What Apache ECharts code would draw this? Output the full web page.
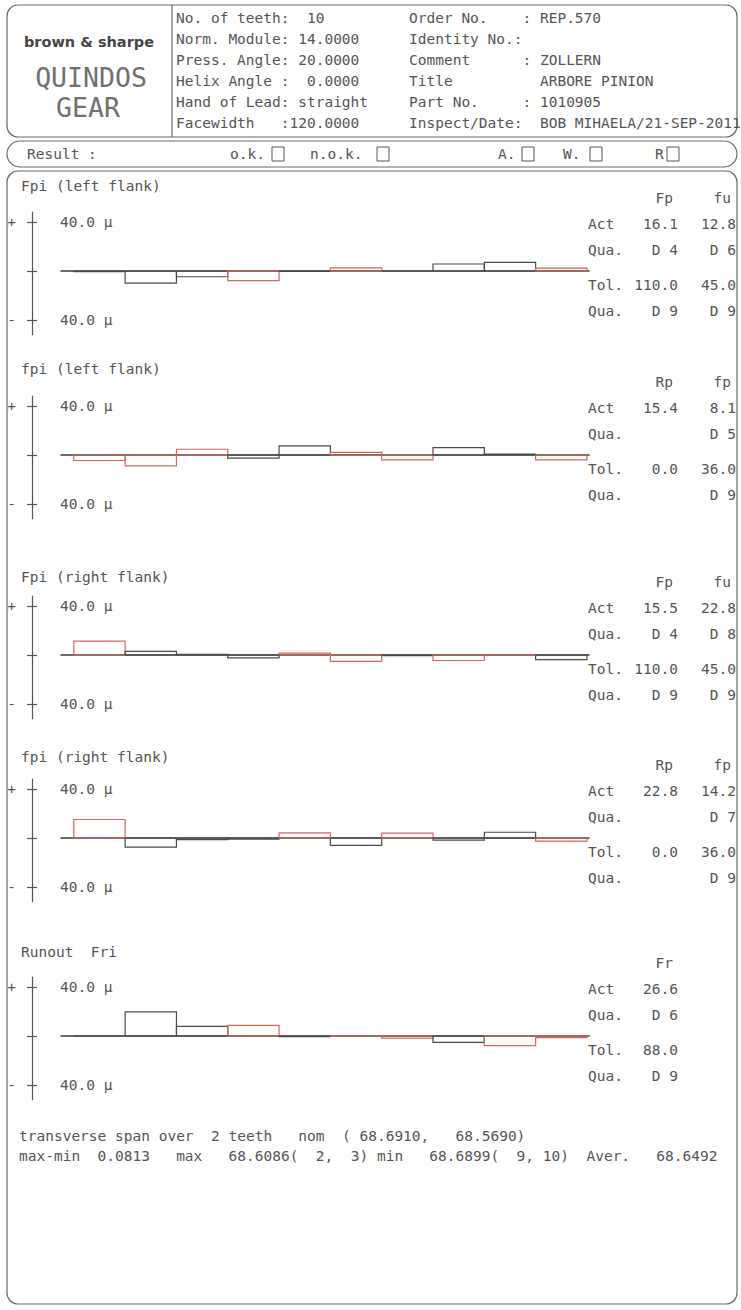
<!DOCTYPE html>
<html>
<head>
<meta charset="utf-8">
<script src="https://cdn.jsdelivr.net/npm/echarts@6/dist/echarts.min.js"></script>
<style>
html,body{margin:0;padding:0;background:#fff;}
#c{width:741px;height:1310px;}
</style>
</head>
<body>
<div id="c"></div>
<script>
// ---------------- DATA ----------------
const teeth = [1, 2, 3, 4, 5, 6, 7, 8, 9, 10];
// cumulative / single pitch deviations and runout, µm per tooth
const fpiLeftFlank  = [-0.5, -9.9, -4.7, -7.8, -0.3, 2.6, 0.0, 5.7, 7.0, 2.3];
const fpLeftFlank   = [-4.5, -8.9, 4.7, -2.6, 7.4, 2.1, -3.9, 6.1, 0.8, -3.9];
const fpiRightFlank = [11.4, 3.0, 0.5, -2.4, 1.6, -5.2, -0.5, -4.5, 0.0, -3.7];
const fpRightFlank  = [15.1, -7.5, -1.3, -1.0, 4.2, -6.0, 3.9, -1.8, 4.7, -2.6];
const runoutFri     = [0.0, 19.7, 7.8, 8.6, -0.5, -0.2, -1.8, -5.2, -7.8, -1.3];

const panelTitles = ['Fpi (left flank)', 'fpi (left flank)', 'Fpi (right flank)', 'fpi (right flank)', 'Runout  Fri'];
const scaleLabels = ['40.0 µ', '40.0 µ', '40.0 µ', '40.0 µ', '40.0 µ'];
const scaleTicks = [-40, 0, 40];

const statHeads = [['Fp', 'fu'], ['Rp', 'fp'], ['Fp', 'fu'], ['Rp', 'fp'], ['Fr']];
const statAct   = [['16.1', '12.8'], ['15.4', '8.1'], ['15.5', '22.8'], ['22.8', '14.2'], ['26.6']];
const statQua   = [['D 4', 'D 6'], ['', 'D 5'], ['D 4', 'D 8'], ['', 'D 7'], ['D 6']];
const statTol   = [['110.0', '45.0'], ['0.0', '36.0'], ['110.0', '45.0'], ['0.0', '36.0'], ['88.0']];
const statQuaTol= [['D 9', 'D 9'], ['', 'D 9'], ['D 9', 'D 9'], ['', 'D 9'], ['D 9']];

const gearParams = [
  'No. of teeth:  10',
  'Norm. Module: 14.0000',
  'Press. Angle: 20.0000',
  'Helix Angle :  0.0000',
  'Hand of Lead: straight',
  'Facewidth   :120.0000'
];
const orderInfo = [
  'Order No.    : REP.570',
  'Identity No.:',
  'Comment      : ZOLLERN',
  'Title          ARBORE PINION',
  'Part No.     : 1010905',
  'Inspect/Date:  BOB MIHAELA/21-SEP-2011'
];
const resultItems = ['o.k.', 'n.o.k.', 'A.', 'W.', 'R'];
const spanLines = [
  'transverse span over  2 teeth   nom  ( 68.6910,   68.5690)',
  'max-min  0.0813   max   68.6086(  2,  3) min   68.6899(  9, 10)  Aver.   68.6492'
];

// ---------------- STYLE ----------------
const TXT = '#555';
const LINE = '#6a6a6a';
const DARK = '#4a4a4a';
const RED = '#d8675c';
const MONO = '"DejaVu Sans Mono", "Liberation Mono", monospace';
const FS = 14.5;
const PITCH = 8.73;
// outline colour of each tooth bar (r = red pen, d = dark pen)
const toothStroke = [
  ['d','d','d','r','d','r','d','d','d','r'],
  ['r','r','r','d','d','r','r','d','d','r'],
  ['r','d','d','d','r','r','d','r','r','d'],
  ['r','d','d','d','r','d','r','d','d','r'],
  ['d','d','d','r','d','r','r','d','r','r']
];
const seriesData = [fpiLeftFlank, fpLeftFlank, fpiRightFlank, fpRightFlank, runoutFri];
const zeroY = [271, 455, 655, 838, 1036];
const titleY = [187, 370, 578, 758, 953];
const PXU = 49 / 40;        // pixels per micron
const YMAX = 48, YMIN = -52;

function txt(x, y, s, o) {
  o = o || {};
  return {
    type: 'text', x: x, y: y, silent: true,
    style: {
      text: s, fill: o.fill || TXT,
      font: (o.weight || 'normal') + ' ' + (o.size || FS) + 'px ' + (o.family || MONO),
      textAlign: o.align || 'left', verticalAlign: 'middle'
    }
  };
}
// place runs of a fixed-pitch line at their column positions
function monoLine(x0, y, s) {
  const out = [];
  const re = /\S+(?: \S+)*/g;
  let m;
  while ((m = re.exec(s))) out.push(txt(x0 + m.index * PITCH, y, m[0]));
  return out;
}

const els = [];
// header box
els.push({type: 'rect', silent: true, shape: {x: 7, y: 5, width: 730, height: 132, r: 11},
  style: {fill: 'none', stroke: LINE, lineWidth: 1.2}});
els.push({type: 'line', silent: true, shape: {x1: 172, y1: 5, x2: 172, y2: 137},
  style: {stroke: LINE, lineWidth: 1.2}});
els.push(txt(89, 42, 'brown & sharpe', {weight: 'bold', size: 14.5, family: '"DejaVu Sans", sans-serif', align: 'center', fill: '#444'}));
els.push(txt(91, 77, 'QUINDOS', {size: 26.5, align: 'center', fill: '#707070'}));
els.push(txt(88, 107, 'GEAR', {size: 26.5, align: 'center', fill: '#707070'}));
gearParams.forEach((s, i) => els.push(...monoLine(176, 18 + i * 21, s)));
orderInfo.forEach((s, i) => els.push(...monoLine(409, 18 + i * 21, s)));

// result row
els.push({type: 'rect', silent: true, shape: {x: 7, y: 141, width: 730, height: 26, r: 13},
  style: {fill: 'none', stroke: LINE, lineWidth: 1.2}});
els.push(txt(27, 154, 'Result :'));
const resX = [230, 310, 498, 563, 655];
const boxX = [272, 377, 522, 590, 667];
resultItems.forEach((s, i) => {
  els.push(txt(resX[i], 154, s));
  els.push({type: 'rect', silent: true, shape: {x: boxX[i], y: 147, width: 12, height: 14},
    style: {fill: 'none', stroke: '#555', lineWidth: 1}});
});

// main box
els.push({type: 'rect', silent: true, shape: {x: 7, y: 171, width: 730, height: 1133, r: 11},
  style: {fill: 'none', stroke: LINE, lineWidth: 1.2}});

// stats
const rowOff = [-73, -47, -21, 14, 40];
const colR = [678, 736];
zeroY.forEach((z, k) => {
  statHeads[k].forEach((h, j) => els.push(txt(colR[j] - 5, z + rowOff[0], h, {align: 'right'})));
  const rows = [['Act', statAct[k]], ['Qua.', statQua[k]], ['Tol.', statTol[k]], ['Qua.', statQuaTol[k]]];
  rows.forEach((r, ri) => {
    const y = z + rowOff[ri + 1];
    els.push(txt(588, y, r[0]));
    r[1].forEach((v, j) => { if (v) els.push(txt(colR[j], y, v, {align: 'right'})); });
  });
});

// bottom span lines
spanLines.forEach((s, i) => els.push(...monoLine(19, 1136 + i * 20, s)));

// ---------------- CHARTS ----------------
const grids = [], xAxes = [], yAxes = [], series = [], titles = [];
zeroY.forEach((z, k) => {
  grids.push({left: 61, width: 528, top: z - YMAX * PXU, height: (YMAX - YMIN) * PXU});
  titles.push({text: panelTitles[k], left: 21, top: titleY[k] - 9, padding: 0,
    textStyle: {fontFamily: MONO, fontSize: FS, fontWeight: 'normal', color: TXT}});
  xAxes.push({type: 'value', gridIndex: k, min: -0.25, max: 10.04,
    axisLine: {show: true, onZero: true, onZeroAxisIndex: 2 * k, lineStyle: {color: '#3c3c3c', width: 1.6}},
    axisTick: {show: false}, axisLabel: {show: false}, splitLine: {show: false}});
  yAxes.push({type: 'value', gridIndex: k, min: YMIN, max: YMAX, position: 'left', offset: 29,
    axisLine: {show: true, onZero: false, lineStyle: {color: '#555', width: 1.2}},
    axisTick: {show: true, customValues: scaleTicks, length: 5, lineStyle: {color: '#555', width: 1.2}},
    axisLabel: {show: true, inside: true, margin: 28, customValues: [40, -40],
      formatter: () => scaleLabels[k], fontFamily: MONO, fontSize: FS, color: TXT},
    splitLine: {show: false}});
  yAxes.push({type: 'value', gridIndex: k, min: YMIN, max: YMAX, position: 'left', offset: 29,
    axisLine: {show: false, onZero: false},
    axisTick: {show: true, inside: true, customValues: scaleTicks, length: 5, lineStyle: {color: '#555', width: 1.2}},
    axisLabel: {show: true, margin: 16, customValues: [40, -40],
      formatter: v => (v > 0 ? '+' : '-'), fontFamily: MONO, fontSize: FS, color: TXT},
    splitLine: {show: false}});
  const stroke = toothStroke[k];
  series.push({
    type: 'custom', xAxisIndex: k, yAxisIndex: 2 * k, silent: true,
    data: seriesData[k].map((v, i) => [teeth[i], v]),
    encode: {x: 0, y: 1},
    renderItem: (params, api) => {
      const i = api.value(0), v = api.value(1);
      const a = api.coord([i - 1, 0]), b = api.coord([i, v]);
      return {type: 'polygon',
        shape: {points: [[a[0], a[1]], [a[0], b[1]], [b[0], b[1]], [b[0], a[1]]]},
        style: {fill: 'none', stroke: stroke[params.dataIndex] === 'r' ? RED : DARK, lineWidth: 1.2}};
    }
  });
});

const chart = echarts.init(document.getElementById('c'), null, {renderer: 'svg', width: 741, height: 1310});
chart.setOption({
  animation: false,
  backgroundColor: '#fff',
  title: titles,
  grid: grids,
  xAxis: xAxes,
  yAxis: yAxes,
  series: series,
  graphic: {elements: els}
});
</script>
</body>
</html>
